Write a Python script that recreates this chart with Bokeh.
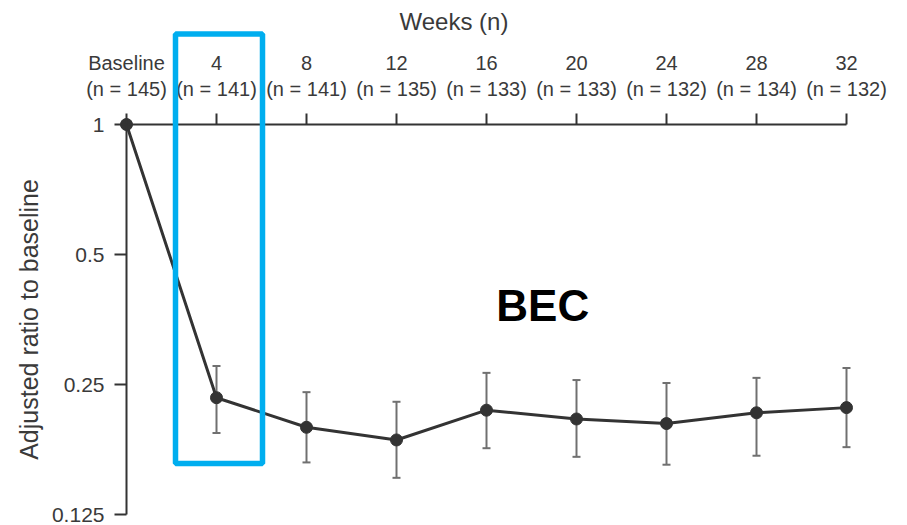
from bokeh.plotting import figure
from bokeh.models import (ColumnDataSource, Range1d, FixedTicker, LinearAxis, Whisker,
                          TeeHead, BoxAnnotation, Label, PrintfTickFormatter)
from bokeh.embed import file_html
from bokeh.resources import INLINE

# Adjusted ratio of blood eosinophil count (BEC) to baseline, by study week
weeks = [0, 4, 8, 12, 16, 20, 24, 28, 32]
n_patients = [145, 141, 141, 135, 133, 133, 132, 134, 132]
ratio = [1.0, 0.233, 0.199, 0.186, 0.218, 0.208, 0.203, 0.215, 0.221]
ci_lower = [None, 0.193, 0.165, 0.152, 0.178, 0.170, 0.163, 0.171, 0.179]
ci_upper = [None, 0.276, 0.240, 0.228, 0.266, 0.256, 0.252, 0.259, 0.273]
y_ticks = [0.125, 0.25, 0.5, 1]
week_labels = ["Baseline"] + [str(w) for w in weeks[1:]]
n_labels = [f"(n = {n})" for n in n_patients]

FONT = "Liberation Sans"
TEXT = "#3a3a3a"
INK = "#333333"

# Page layout (pixels): the plotting area spans the whole canvas and the
# axes are pinned to week 0 / ratio 1, so nothing near the edges is clipped.
W, H = 907, 525
AX_LEFT, AX_RIGHT = 126, 846      # week 0 and last week
AX_TOP, AX_BOTTOM = 124, 514      # ratio 1 and lowest tick
px_per_week = (AX_RIGHT - AX_LEFT) / (weeks[-1] - weeks[0])
px_per_doubling = (AX_BOTTOM - AX_TOP) / 3.0

src = ColumnDataSource(data=dict(week=weeks, ratio=ratio))
ci = [(w, lo, hi) for w, lo, hi in zip(weeks, ci_lower, ci_upper) if lo is not None]
ci_src = ColumnDataSource(data=dict(week=[c[0] for c in ci],
                                    lower=[c[1] for c in ci],
                                    upper=[c[2] for c in ci]))

p = figure(width=W, height=H,
           x_range=Range1d(weeks[0] - AX_LEFT / px_per_week,
                           weeks[-1] + (W - AX_RIGHT) / px_per_week),
           y_range=Range1d(y_ticks[0] / 2 ** ((H - AX_BOTTOM) / px_per_doubling),
                           y_ticks[-1] * 2 ** (AX_TOP / px_per_doubling)),
           y_axis_type="log", x_axis_location="above",
           output_backend="svg", toolbar_location=None,
           min_border_left=0, min_border_right=0,
           min_border_top=0, min_border_bottom=0)
p.outline_line_color = None
p.xgrid.visible = False
p.ygrid.visible = False
p.background_fill_color = "white"
p.border_fill_color = "white"

# inner top axis: tick marks and patient counts
ax = p.xaxis[0]
ax.fixed_location = 1
ax.bounds = (weeks[0], weeks[-1])
ax.ticker = FixedTicker(ticks=weeks)
ax.major_label_overrides = dict(zip(weeks, n_labels))
ax.axis_line_color = INK
ax.axis_line_width = 2
ax.major_tick_line_color = INK
ax.major_tick_line_width = 2
ax.major_tick_out = 11
ax.major_tick_in = 0
ax.minor_tick_line_color = None
ax.major_label_standoff = 14
ax.major_label_text_font = FONT
ax.major_label_text_font_size = "20px"
ax.major_label_text_color = TEXT

# outer top axis: week names and title
outer = LinearAxis(ticker=FixedTicker(ticks=weeks), fixed_location=1,
                   major_label_overrides=dict(zip(weeks, week_labels)),
                   axis_line_color=None, major_tick_line_color=None,
                   minor_tick_line_color=None, major_tick_out=0, major_tick_in=0,
                   minor_tick_out=0, minor_tick_in=0,
                   major_label_standoff=51,
                   major_label_text_font=FONT, major_label_text_font_size="20px",
                   major_label_text_color=TEXT,
                   axis_label="Weeks (n)", axis_label_text_font=FONT,
                   axis_label_text_font_size="24px", axis_label_text_font_style="normal",
                   axis_label_text_color=TEXT, axis_label_standoff=14)
p.add_layout(outer, "above")

ay = p.yaxis[0]
ay.fixed_location = weeks[0]
ay.bounds = (y_ticks[0], y_ticks[-1])
ay.ticker = FixedTicker(ticks=y_ticks)
ay.formatter = PrintfTickFormatter(format="%g")
ay.axis_line_color = INK
ay.axis_line_width = 2
ay.major_tick_line_color = INK
ay.major_tick_line_width = 2
ay.major_tick_out = 12
ay.major_tick_in = 0
ay.minor_tick_line_color = None
ay.major_label_standoff = 10
ay.major_label_text_font = FONT
ay.major_label_text_font_size = "21px"
ay.major_label_text_color = TEXT
ay.axis_label = "Adjusted ratio to baseline"
ay.axis_label_text_font = FONT
ay.axis_label_text_font_size = "25px"
ay.axis_label_text_font_style = "normal"
ay.axis_label_text_color = TEXT
ay.axis_label_standoff = 6

whisk = Whisker(source=ci_src, base="week", lower="lower", upper="upper",
                line_color="#707070", line_width=2, level="underlay",
                upper_head=TeeHead(size=8, line_color="#707070", line_width=2),
                lower_head=TeeHead(size=8, line_color="#707070", line_width=2))
p.add_layout(whisk)

p.line("week", "ratio", source=src, line_color=INK, line_width=3)
p.scatter("week", "ratio", source=src, size=12, fill_color=INK, line_color=INK)

p.add_layout(Label(x=18.5, y=0.38, text="BEC", text_font=FONT, text_font_size="44px",
                   text_font_style="bold", text_align="center", text_baseline="middle",
                   text_color="black"))

# highlight frame around week 4
p.add_layout(BoxAnnotation(left=175, right=262, top=33.5, bottom=463,
                           left_units="canvas", right_units="canvas",
                           top_units="canvas", bottom_units="canvas",
                           fill_color=None, fill_alpha=0,
                           line_color="#00AEEF", line_alpha=1.0, line_width=5.5,
                           level="overlay"))

open("out.html", "w").write(file_html(p, INLINE))
